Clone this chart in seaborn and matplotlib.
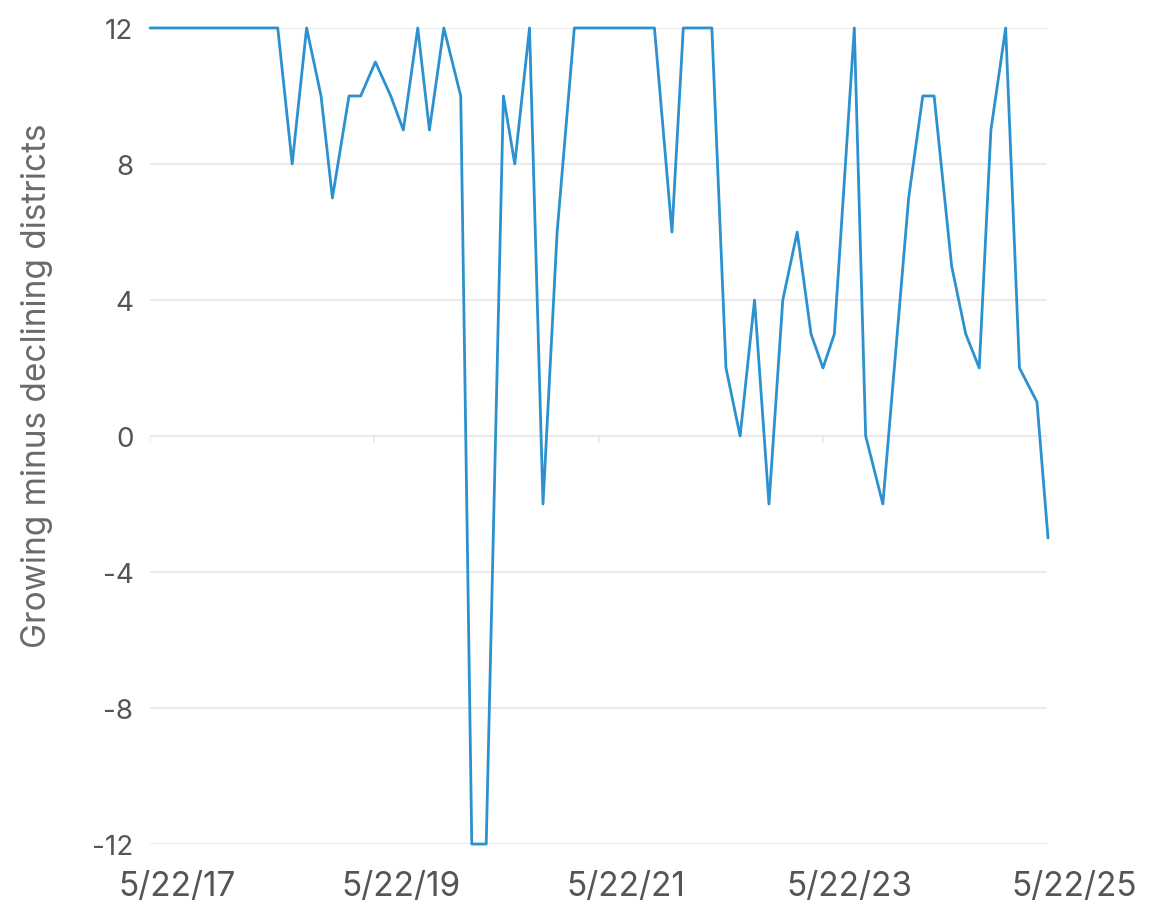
import numpy as np
import pandas as pd
import matplotlib
matplotlib.use("Agg")
import matplotlib.pyplot as plt
import matplotlib.dates as mdates
from matplotlib.transforms import ScaledTranslation
import seaborn as sns

# Release dates and net count (growing minus declining districts)
dates = [
    "2017-05-22", "2017-07-07", "2017-08-22", "2017-10-08", "2017-11-23",
    "2018-01-08", "2018-02-23", "2018-04-11", "2018-05-27", "2018-07-12",
    "2018-08-28", "2018-10-14", "2018-11-30", "2019-01-06", "2019-03-01",
    "2019-04-08", "2019-05-26", "2019-07-15", "2019-08-25", "2019-10-11",
    "2019-11-18", "2020-01-04", "2020-02-28", "2020-04-04", "2020-05-21",
    "2020-07-16", "2020-08-22", "2020-10-09", "2020-11-22", "2021-01-07",
    "2021-03-04", "2021-04-18", "2021-06-02", "2021-07-18", "2021-09-02",
    "2021-10-11", "2021-11-20", "2022-01-16", "2022-02-22", "2022-04-10",
    "2022-05-26", "2022-07-11", "2022-08-26", "2022-10-12", "2022-11-28",
    "2023-01-12", "2023-02-28", "2023-04-14", "2023-05-23", "2023-06-29",
    "2023-09-02", "2023-10-09", "2023-12-04", "2024-02-26", "2024-04-12",
    "2024-05-19", "2024-07-15", "2024-08-30", "2024-10-13", "2024-11-20",
    "2025-01-07", "2025-02-21", "2025-04-19", "2025-05-25",
]
net_districts = [
    12, 12, 12, 12, 12,
    12, 12, 12, 12, 12,
    8, 12, 10, 7, 10,
    10, 11, 10, 9, 12,
    9, 12, 10, -12, -12,
    10, 8, 12, -2, 6,
    12, 12, 12, 12, 12,
    12, 12, 6, 12, 12,
    12, 2, 0, 4, -2,
    4, 6, 3, 2, 3,
    12, 0, -2, 7, 10,
    10, 5, 3, 2, 9,
    12, 2, 1, -3,
]
x_ticks = ["2017-05-22", "2019-05-22", "2021-05-22", "2023-05-22", "2025-05-22"]
y_ticks = [-12, -8, -4, 0, 4, 8, 12]

df = pd.DataFrame({"date": pd.to_datetime(dates), "net": net_districts})
tick_dates = pd.to_datetime(x_ticks)

sns.set_theme(style="white")
plt.rcParams["font.family"] = ["Inter", "DejaVu Sans"]

fig = plt.figure(figsize=(11.65, 9.2), dpi=100)
ax = fig.add_axes([0.1288, 0.0815, 0.7700, 0.8870])

grid_color = "#e6e6e6"
for y in y_ticks:
    ax.axhline(y, color=grid_color, lw=1.2, zorder=0)
# small tick marks hanging off the zero line
ax.vlines(tick_dates, -0.22, 0, color=grid_color, lw=1.2, zorder=0)

sns.lineplot(data=df, x="date", y="net", ax=ax, color="#2b91cf", lw=2.0,
             clip_on=False)

ax.set_xlim(tick_dates[0], tick_dates[-1])
ax.set_ylim(-12, 12)
ax.set_yticks(y_ticks)
ax.set_yticklabels([str(v) for v in y_ticks])
ax.set_xticks(tick_dates)
ax.xaxis.set_major_formatter(mdates.DateFormatter("%-m/%d/%y"))

ax.tick_params(axis="y", length=0, pad=12, labelsize=20, labelcolor="#555555")
ax.tick_params(axis="x", length=0, pad=19, labelsize=24, labelcolor="#555555")
for lab in ax.get_xticklabels():
    lab.set_transform(lab.get_transform() + ScaledTranslation(0.27, 0, fig.dpi_scale_trans))

for s in ax.spines.values():
    s.set_visible(False)

ax.set_xlabel("")
ax.set_ylabel("Growing minus declining districts", fontsize=24, color="#6a6a6a")
ax.yaxis.set_label_coords(-0.108, 0.5625)

fig.savefig("out.png", dpi=100, facecolor="white")
